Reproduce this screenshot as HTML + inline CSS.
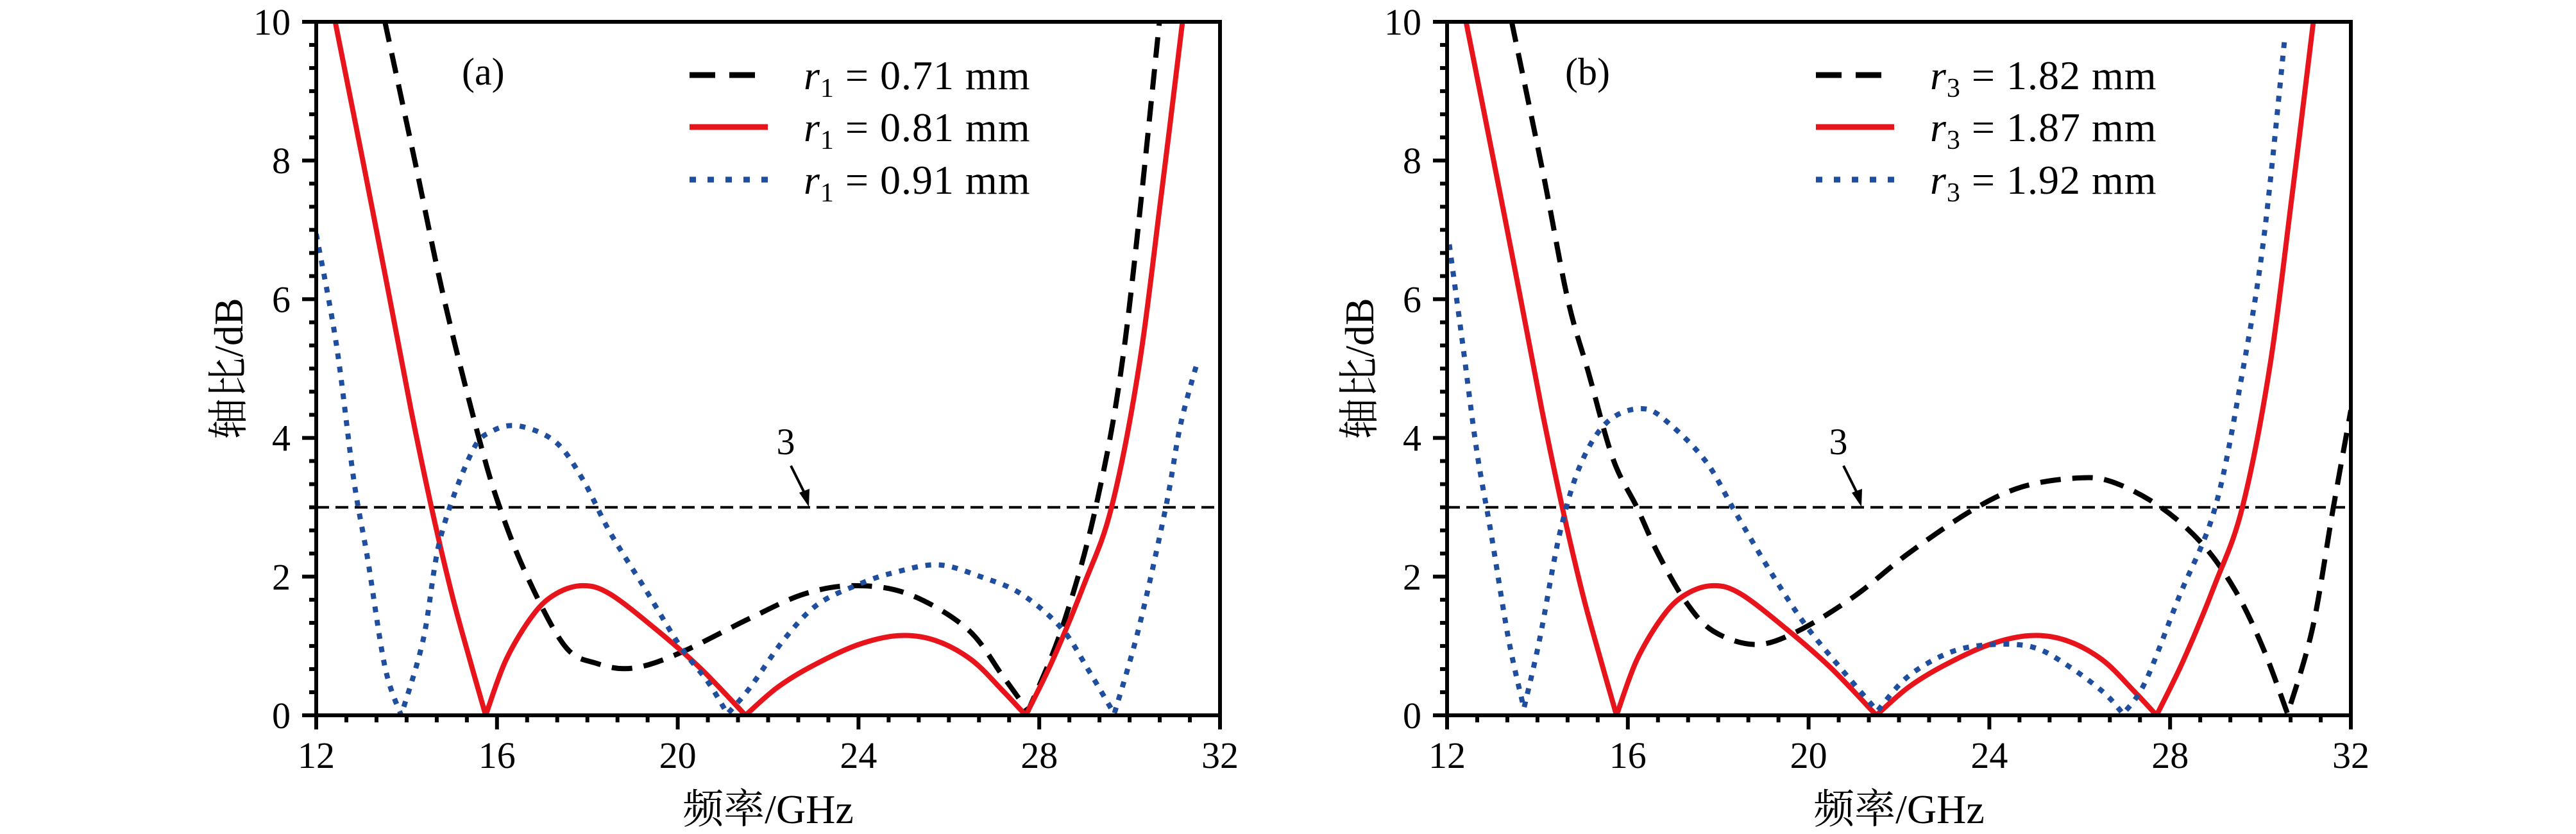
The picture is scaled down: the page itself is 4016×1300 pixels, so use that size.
<!DOCTYPE html>
<html><head><meta charset="utf-8"><style>
html,body{margin:0;padding:0;background:#fff;}
svg{display:block;font-family:"Liberation Serif","Noto Serif CJK SC",serif;}
</style></head><body>
<svg id="chart" width="4016" height="1300" viewBox="0 0 4016 1300" xmlns="http://www.w3.org/2000/svg"></svg>
<script>
const xTicks = [12, 16, 20, 24, 28, 32];
const yTicks = [0, 2, 4, 6, 8, 10];
const panelLabels = ["(a)", "(b)"];
const legendA = ["0.71", "0.81", "0.91"];
const legendB = ["1.82", "1.87", "1.92"];
const threshold = 3;

const aBlackX = [13.52,14.18,14.83,15.6,16.06,16.67,17.5,18.2,19.0,20.05,21.6,22.8,23.9,25.1,26.4,27.2,27.75,28.5,29.25,29.9,30.66];
const aBlackY = [10,8,6,4,3,2,1,0.75,0.68,0.9,1.4,1.75,1.87,1.75,1.25,0.56,0.06,1.25,3,5.4,10];
const aRedX = [12.42,13.0,13.6,14.1,14.55,15.0,15.4,15.75,16.2,16.8,17.3,17.9,18.5,19.5,20.5,21.5,22.2,23.0,24.0,24.9,25.7,26.5,27.2,27.7,28.3,29.0,29.6,30.2,30.7,31.17];
const aRedY = [10,8.1,6.1,4.4,3.0,1.75,0.8,0,0.8,1.45,1.75,1.87,1.75,1.25,0.68,0,0.4,0.72,1.02,1.15,1.08,0.8,0.35,0,0.8,1.9,3,5,7.5,10];
const aBlueX = [12,12.45,12.83,13.14,13.52,13.88,14.37,14.75,15.44,15.9,16.5,17.3,17.9,18.5,19.3,20.05,20.67,21.1,21.6,22.36,23.1,24.05,24.8,25.76,26.7,27.6,28.5,29.1,29.66,30.2,30.8,31.12,31.5];
const aBlueY = [6.94,5.33,3.4,2.25,0.7,0,1.1,2.56,3.79,4.1,4.17,3.94,3.4,2.64,1.8,1.0,0.48,0.02,0.4,1.1,1.6,1.9,2.06,2.17,2.0,1.75,1.25,0.64,0.02,1.25,3.0,4.17,5.1];

const bBlackX = [13.43,14.13,14.67,15.13,15.67,16.2,16.67,17.28,17.9,18.83,19.75,21.0,22.2,23.6,24.7,25.9,26.7,27.75,28.7,29.45,30.07,30.6,31.15,31.6,32];
const bBlackY = [10,7.8,6,4.94,3.7,3,2.33,1.64,1.21,1.02,1.21,1.71,2.33,2.95,3.29,3.42,3.37,3.02,2.48,1.79,0.95,0.02,1.25,2.95,4.4];
const bRedX = aRedX;
const bRedY = aRedY;
const bBlueX = [12.05,12.35,12.66,12.97,13.36,13.7,14.05,14.5,14.97,15.58,16.36,16.98,17.75,18.36,19.13,19.9,20.67,21.52,22.2,23.14,24.06,24.98,25.75,26.53,26.96,27.45,28.2,29.0,29.6,30.07,30.54];
const bBlueY = [6.79,5.33,3.8,2.64,1.1,0.1,1.1,2.64,3.64,4.25,4.42,4.17,3.64,2.95,2.1,1.33,0.71,0.06,0.56,0.91,1.02,0.98,0.71,0.33,0.02,0.48,1.71,3.0,4.94,6.86,9.78];

const NS = "http://www.w3.org/2000/svg";
const svg = document.getElementById("chart");
function el(tag, attrs, parent){ const e=document.createElementNS(NS,tag); for(const k in attrs) e.setAttribute(k,attrs[k]); (parent||svg).appendChild(e); return e; }

const TOP=34, BOT=1115, W=1409;
const styles = [
  {stroke:"#000", dash:"32 18", w:8},
  {stroke:"#e8141c", dash:"", w:8},
  {stroke:"#1f4e9f", dash:"9 12", w:8}
];

function smoothPath(pts, cuspY){
  // split at cusps
  const segs=[]; let cur=[pts[0]];
  for(let i=1;i<pts.length;i++){
    cur.push(pts[i]);
    if(pts[i].v<=0.1 && i<pts.length-1){ segs.push(cur); cur=[pts[i]]; }
  }
  segs.push(cur);
  let d="M"+pts[0].x.toFixed(1)+","+pts[0].y.toFixed(1);
  segs.forEach(s=>{
    for(let i=0;i<s.length-1;i++){
      const p0=s[i-1]||s[i], p1=s[i], p2=s[i+1], p3=s[i+2]||s[i+1];
      const c1x=p1.x+(p2.x-p0.x)/6, c1y=p1.y+(p2.y-p0.y)/6;
      const c2x=p2.x-(p3.x-p1.x)/6, c2y=p2.y-(p3.y-p1.y)/6;
      d+=" C"+c1x.toFixed(1)+","+c1y.toFixed(1)+" "+c2x.toFixed(1)+","+c2y.toFixed(1)+" "+p2.x.toFixed(1)+","+p2.y.toFixed(1);
    }
  });
  return d;
}

function panel(idx, L, series, legendVals, sub, labelX, annX){
  const R=L+W;
  const xs=v=>L+(v-12)/20*W;
  const ys=v=>BOT-(v/10)*(BOT-TOP);
  const g=el("g",{});
  
  
  const cp=el("clipPath",{id:"clip"+idx},g);
  el("rect",{x:L,y:TOP,width:W,height:BOT-TOP},cp);
  const th=el("line",{x1:L,x2:R,y1:ys(threshold),y2:ys(threshold),stroke:"#000","stroke-width":4,"stroke-dasharray":"20 10"},g);
  
  
  const names=["series-black-dashed","series-red-solid","series-blue-dotted"];
  series.forEach((s,i)=>{
    const pts=s[0].map((x,j)=>({x:xs(x),y:ys(s[1][j]),v:s[1][j]}));
    const p=el("path",{d:smoothPath(pts),fill:"none",stroke:styles[i].stroke,"stroke-width":styles[i].w,"stroke-dasharray":styles[i].dash,"stroke-linejoin":"round","clip-path":"url(#clip"+idx+")"},g);
    
    
  });
  const fr=el("rect",{x:L,y:TOP,width:W,height:BOT-TOP,fill:"none",stroke:"#000","stroke-width":6},g);
  
  
  for(let v=12; v<=32.001; v+=2/3){
    const major=Math.abs(v-Math.round(v))<0.01 && Math.round(v)%4===0;
    el("line",{x1:xs(v),x2:xs(v),y1:BOT,y2:BOT+(major?22:11),stroke:"#000","stroke-width":6},g);
  }
  for(let v=0; v<=10.001; v+=1/3){
    const major=Math.abs(v-Math.round(v))<0.01 && Math.round(v)%2===0;
    el("line",{x1:L,x2:L-(major?22:11),y1:ys(v),y2:ys(v),stroke:"#000","stroke-width":6},g);
  }
  xTicks.forEach(v=>{
    const t=el("text",{x:xs(v),y:1197,"font-size":58,"text-anchor":"middle"},g);
    t.textContent=v;
    
    
  });
  yTicks.forEach(v=>{
    const t=el("text",{x:L-40,y:ys(v)+20,"font-size":58,"text-anchor":"end"},g);
    t.textContent=v;
    
    
  });
  const xt=el("text",{x:(L+R)/2,y:1283,"font-size":64,"text-anchor":"middle"},g);
  xt.textContent="频率/GHz";
  
  
  const yt=el("text",{x:0,y:0,"font-size":64,"text-anchor":"middle",transform:"translate("+(L-115)+","+((TOP+BOT)/2)+") rotate(-90)"},g);
  yt.textContent="轴比/dB";
  
  
  const pl=el("text",{x:labelX,y:132,"font-size":60},g);
  pl.textContent=panelLabels[idx];
  
  
  const an=el("text",{x:annX,y:708,"font-size":58,"text-anchor":"middle"},g);
  an.textContent="3";
  
  
  const ar=el("line",{x1:annX+8,y1:726,x2:annX+30,y2:770,stroke:"#000","stroke-width":4},g);
  
  
  el("path",{d:"M"+(annX+36)+",790 L"+(annX+21)+",768 L"+(annX+37)+",762 Z",fill:"#000"},g);
  const lx=L+(idx===0?582:575);
  const rows=[117,198,280];
  legendVals.forEach((v,i)=>{
    const ls=el("line",{x1:lx,x2:lx+122,y1:rows[i],y2:rows[i],stroke:styles[i].stroke,"stroke-width":9,"stroke-dasharray":i===0?"40 22":(i===2?"10 18":"")},g);
    
    
    const t=el("text",{x:lx+178,y:rows[i]+22,"font-size":64,"letter-spacing":"1"},g);
    
    
    const a=el("tspan",{"font-style":"italic"},t); a.textContent="r";
    const b=el("tspan",{"font-size":42,dy:12},t); b.textContent=sub;
    const c=el("tspan",{dy:-12},t); c.textContent=" = "+v+" mm";
  });
}
panel(0,493,[[aBlackX,aBlackY],[aRedX,aRedY],[aBlueX,aBlueY]],legendA,"1",720,1225);
panel(1,2256,[[bBlackX,bBlackY],[bRedX,bRedY],[bBlueX,bBlueY]],legendB,"3",2440,2866);
</script>
</body></html>
